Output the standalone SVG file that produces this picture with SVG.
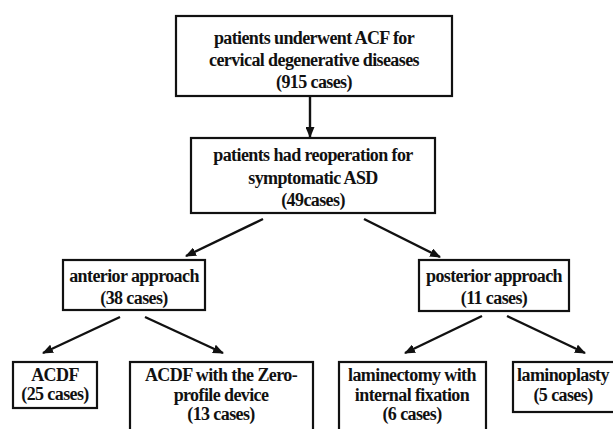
<svg xmlns="http://www.w3.org/2000/svg" width="613" height="429" viewBox="0 0 613 429">
<defs>
<marker id="ah" markerWidth="11" markerHeight="9" refX="10" refY="4.5" orient="auto" markerUnits="userSpaceOnUse">
<path d="M0,0 L11,4.5 L0,9 Z" fill="#111"/>
</marker>
<style>
.box{fill:#fff;stroke:#111;stroke-width:2.2}
.t{font-family:"Liberation Serif","Times New Roman",serif;font-weight:bold;font-size:18px;letter-spacing:-0.6px;fill:#111;text-anchor:middle}
.c{stroke:#111;stroke-width:2.4;fill:none;marker-end:url(#ah)}
</style>
</defs>
<rect width="613" height="429" fill="#fff"/>
<g id="connectors">
<line class="c" x1="310" y1="96" x2="310" y2="137"/>
<line class="c" x1="263" y1="219" x2="186" y2="256"/>
<line class="c" x1="364" y1="219" x2="440" y2="257"/>
<line class="c" x1="120" y1="317" x2="43" y2="353"/>
<line class="c" x1="145" y1="317" x2="223" y2="353"/>
<line class="c" x1="482" y1="316" x2="405" y2="353"/>
<line class="c" x1="507" y1="316" x2="585" y2="353"/>
</g>
<g id="n1">
<rect class="box" x="176" y="16" width="276" height="80"/>
<text class="t" x="314" y="44">patients underwent ACF for</text>
<text class="t" x="314" y="66">cervical degenerative diseases</text>
<text class="t" x="314" y="88">(915 cases)</text>
</g>
<g id="n2">
<rect class="box" x="191" y="138" width="244" height="75"/>
<text class="t" x="313" y="161">patients had reoperation for</text>
<text class="t" x="313" y="184">symptomatic ASD</text>
<text class="t" x="313" y="206">(49cases)</text>
</g>
<g id="n3">
<rect class="box" x="63" y="260" width="142" height="50"/>
<text class="t" x="134" y="282">anterior approach</text>
<text class="t" x="134" y="304">(38 cases)</text>
</g>
<g id="n4">
<rect class="box" x="419" y="260" width="150" height="51"/>
<text class="t" x="494" y="282">posterior approach</text>
<text class="t" x="494" y="304">(11 cases)</text>
</g>
<g id="n5">
<rect class="box" x="13" y="362" width="84" height="46"/>
<text class="t" x="55" y="381">ACDF</text>
<text class="t" x="55" y="400">(25 cases)</text>
</g>
<g id="n6">
<rect class="box" x="130" y="362" width="183" height="72"/>
<text class="t" x="221" y="381">ACDF with the Zero-</text>
<text class="t" x="221" y="401">profile device</text>
<text class="t" x="221" y="420">(13 cases)</text>
</g>
<g id="n7">
<rect class="box" x="339" y="362" width="147" height="72"/>
<text class="t" x="412" y="381">laminectomy with</text>
<text class="t" x="412" y="401">internal fixation</text>
<text class="t" x="412" y="420">(6 cases)</text>
</g>
<g id="n8">
<rect class="box" x="513" y="362" width="102" height="50"/>
<text class="t" x="563" y="381">laminoplasty</text>
<text class="t" x="563" y="401">(5 cases)</text>
</g>
</svg>
